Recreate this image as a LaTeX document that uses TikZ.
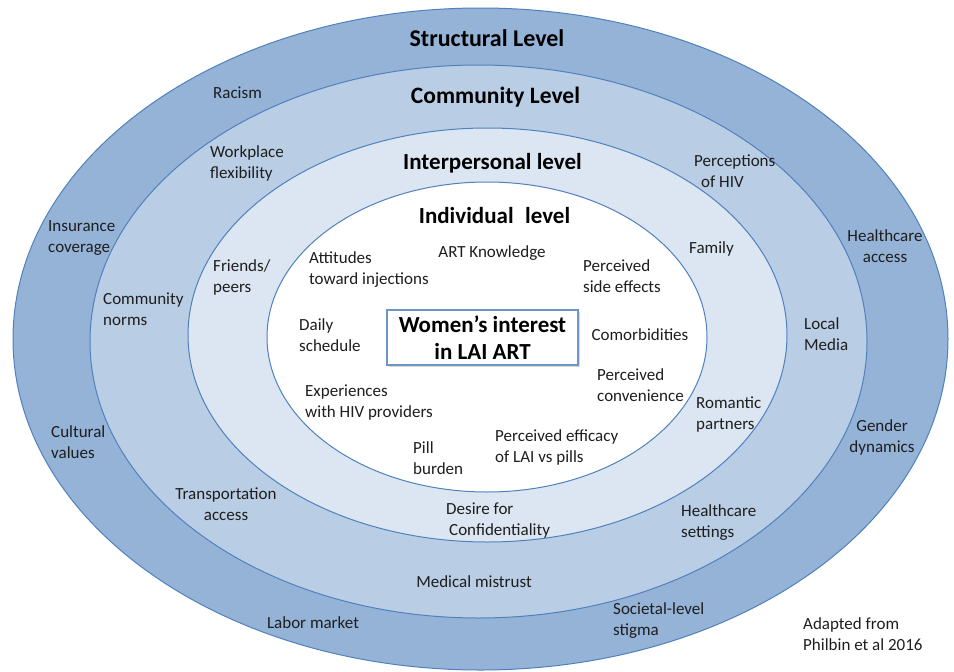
\documentclass[tikz,border=0pt]{standalone}
\usepackage{fontspec}
\setmainfont{Carlito}
\definecolor{ringStruct}{HTML}{95B3D7}
\definecolor{ringComm}{HTML}{B9CDE5}
\definecolor{ringInter}{HTML}{DCE6F2}
\definecolor{edgeBlue}{HTML}{4F81BD}
\definecolor{boxBlue}{HTML}{6F94C8}
\definecolor{ink}{HTML}{1E1E1E}
\begin{document}
\begin{tikzpicture}[x=1pt,y=-1pt,
  ring/.style={draw=edgeBlue, line width=1pt},
  lbl/.style={font=\fontsize{17}{21}\selectfont, inner sep=0pt, text=ink},
  lvl/.style={font=\bfseries\fontsize{#1}{#1}\selectfont, inner sep=0pt, text=black},
  lvl/.default=23,
]
\useasboundingbox (0,0) rectangle (954,672);

% nested levels, outermost first
\path[ring, fill=ringStruct] (480.5,339) ellipse [x radius=467.5, y radius=331];
\path[ring, fill=ringComm]   (478.5,341.5) ellipse [x radius=388.5, y radius=276.5];
\path[ring, fill=ringInter]  (487.5,335) ellipse [x radius=299.5, y radius=207];
\path[ring, fill=white]      (487,337) ellipse [x radius=220, y radius=155];

% level titles
\node[lvl=24] (tStruct) at (487,38)  {Structural Level};
\node[lvl=23.5] (tComm)   at (495.5,97)  {Community Level};
\node[lvl=23] (tInter)  at (492.5,163) {Interpersonal level};
\node[lvl=23] (tIndiv)  at (494.5,216) {Individual\hspace{0.5em}level};

% central outcome box
\fill[black!25, opacity=0.6] (389,312) rectangle (580,367);
\node[draw=boxBlue, fill=white, line width=1.2pt, minimum width=191, minimum height=55,
      inner sep=0pt, align=center, text=black,
      font=\bfseries\fontsize{23}{27}\selectfont] (core) at (482.5,337.5)
      {Women’s interest\\in LAI ART};

% structural factors
\node[lbl] (racism) at (237.5,93) {Racism};
\node[lbl, anchor=west, align=left] (insurance) at (48,238.5) {Insurance\\coverage};
\node[lbl, align=center] (hcaccess) at (885,246) {Healthcare\\access};
\node[lbl, anchor=west, align=left] (cultural) at (51,442) {Cultural\\values};
\node[lbl, align=center] (gender) at (882,437) {Gender\\dynamics};
\node[lbl] (labor) at (313,623) {Labor market};
\node[lbl, anchor=west, align=left] (stigma) at (613,620.5) {Societal-level\\stigma};

% community factors
\node[lbl, anchor=west, align=left] (workplace) at (210,163.5) {Workplace\\flexibility};
\node[lbl, anchor=west, align=left] (perceptions) at (694,171.5) {Perceptions\\\hspace*{7pt}of HIV};
\node[lbl, anchor=west, align=left] (norms) at (103,309.5) {Community\\norms};
\node[lbl, anchor=west, align=left] (media) at (804,334) {Local\\Media};
\node[lbl, align=center] (transport) at (226,504) {Transportation\\access};
\node[lbl, anchor=west, align=left] (settings) at (681,522.5) {Healthcare\\settings};
\node[lbl] (mistrust) at (474,582) {Medical mistrust};

% interpersonal factors
\node[lbl, anchor=west, align=left] (friends) at (213,277) {Friends/\\peers};
\node[lbl] (family) at (711.5,249) {Family};
\node[lbl, anchor=west, align=left] (romantic) at (696,414.5) {Romantic\\partners};
\node[lbl, anchor=west, align=left] (confid) at (446,520.5) {Desire for\\\hspace*{3pt}Confidentiality};

% individual factors
\node[lbl, anchor=west, align=left] (attitudes) at (309,269.5) {Attitudes\\toward injections};
\node[lbl] (artknow) at (492,253) {ART Knowledge};
\node[lbl, anchor=west, align=left] (sideeff) at (583,276.5) {Perceived\\side effects};
\node[lbl, anchor=west, align=left] (daily) at (299,335.5) {Daily\\schedule};
\node[lbl] (comorb) at (640,335) {Comorbidities};
\node[lbl, anchor=west, align=left] (conven) at (597,385.5) {Perceived\\convenience};
\node[lbl, anchor=west, align=left] (providers) at (305,402.5) {Experiences\\with HIV providers};
\node[lbl, anchor=west, align=left] (pill) at (413,458) {Pill\\burden};
\node[lbl, anchor=west, align=left] (efficacy) at (495,447.5) {Perceived efficacy\\of LAI vs pills};

% source note
\node[lbl, anchor=west, align=left] (source) at (803,634) {Adapted from\\Philbin et al 2016};
\end{tikzpicture}
\end{document}
